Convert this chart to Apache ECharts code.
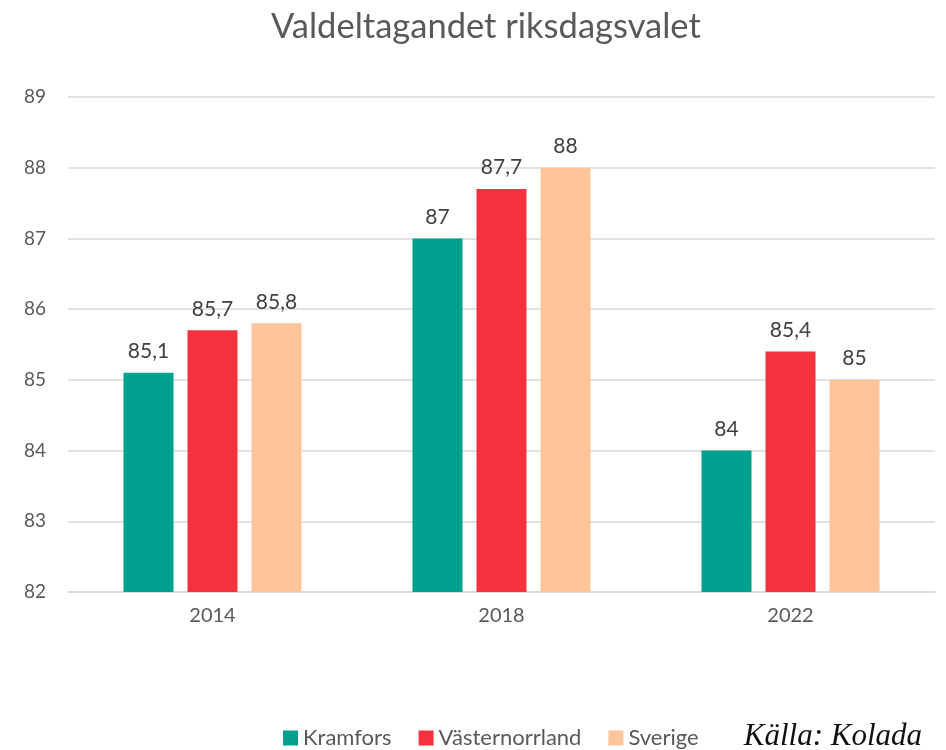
<!DOCTYPE html>
<html><head><meta charset="utf-8">
<script src="https://cdn.jsdelivr.net/npm/echarts@6/dist/echarts.min.js"></script>
<style>html,body{margin:0;padding:0;background:#fff}#c{width:946px;height:750px}</style>
</head><body><div id="c"></div>
<script>
const categories = ['2014', '2018', '2022'];
const kramfors = [85.1, 87, 84];
const vasternorrland = [85.7, 87.7, 85.4];
const sverige = [85.8, 88, 85];
const seriesNames = ['Kramfors', 'Västernorrland', 'Sverige'];
const colors = ['#00A08F', '#F6323F', '#FDC599'];
const font = 'Lato';
const chart = echarts.init(document.getElementById('c'));
const label = {
  show: true, position: 'top', distance: 11, color: '#404040', fontSize: 21, fontFamily: font,
  formatter: p => String(p.value).replace('.', ',')
};
function mk(name, data, i) {
  return { name, type: 'bar', data, barWidth: 50, barGap: '28%', itemStyle: { color: colors[i] }, label };
}
chart.setOption({
  animation: false,
  title: { text: 'Valdeltagandet riksdagsvalet', left: 266, top: 4,
    textStyle: { fontSize: 34.5, fontWeight: 'normal', color: '#595959', fontFamily: font } },
  legend: { bottom: -4, left: 278, itemWidth: 15, itemHeight: 15, itemGap: 27, icon: 'rect',
    textStyle: { fontSize: 22, color: '#595959', fontFamily: font }, data: seriesNames },
  graphic: [{ type: 'text', right: 24, bottom: -2,
    style: { text: 'Källa: Kolada', font: 'italic 31px "Liberation Serif"', fill: '#111' } }],
  grid: { left: 68, right: 11, top: 97, bottom: 158 },
  xAxis: { type: 'category', data: categories,
    axisLine: { lineStyle: { color: '#d9d9d9', width: 1.5 } }, axisTick: { show: false },
    axisLabel: { fontSize: 20, color: '#595959', fontFamily: font, margin: 14 } },
  yAxis: { type: 'value', min: 82, max: 89, interval: 1,
    axisLine: { show: false }, axisTick: { show: false },
    splitLine: { lineStyle: { color: '#d9d9d9', width: 1.5 } },
    axisLabel: { fontSize: 19, color: '#595959', fontFamily: font, margin: 22 } },
  series: [mk(seriesNames[0], kramfors, 0), mk(seriesNames[1], vasternorrland, 1), mk(seriesNames[2], sverige, 2)]
});
</script></body></html>
